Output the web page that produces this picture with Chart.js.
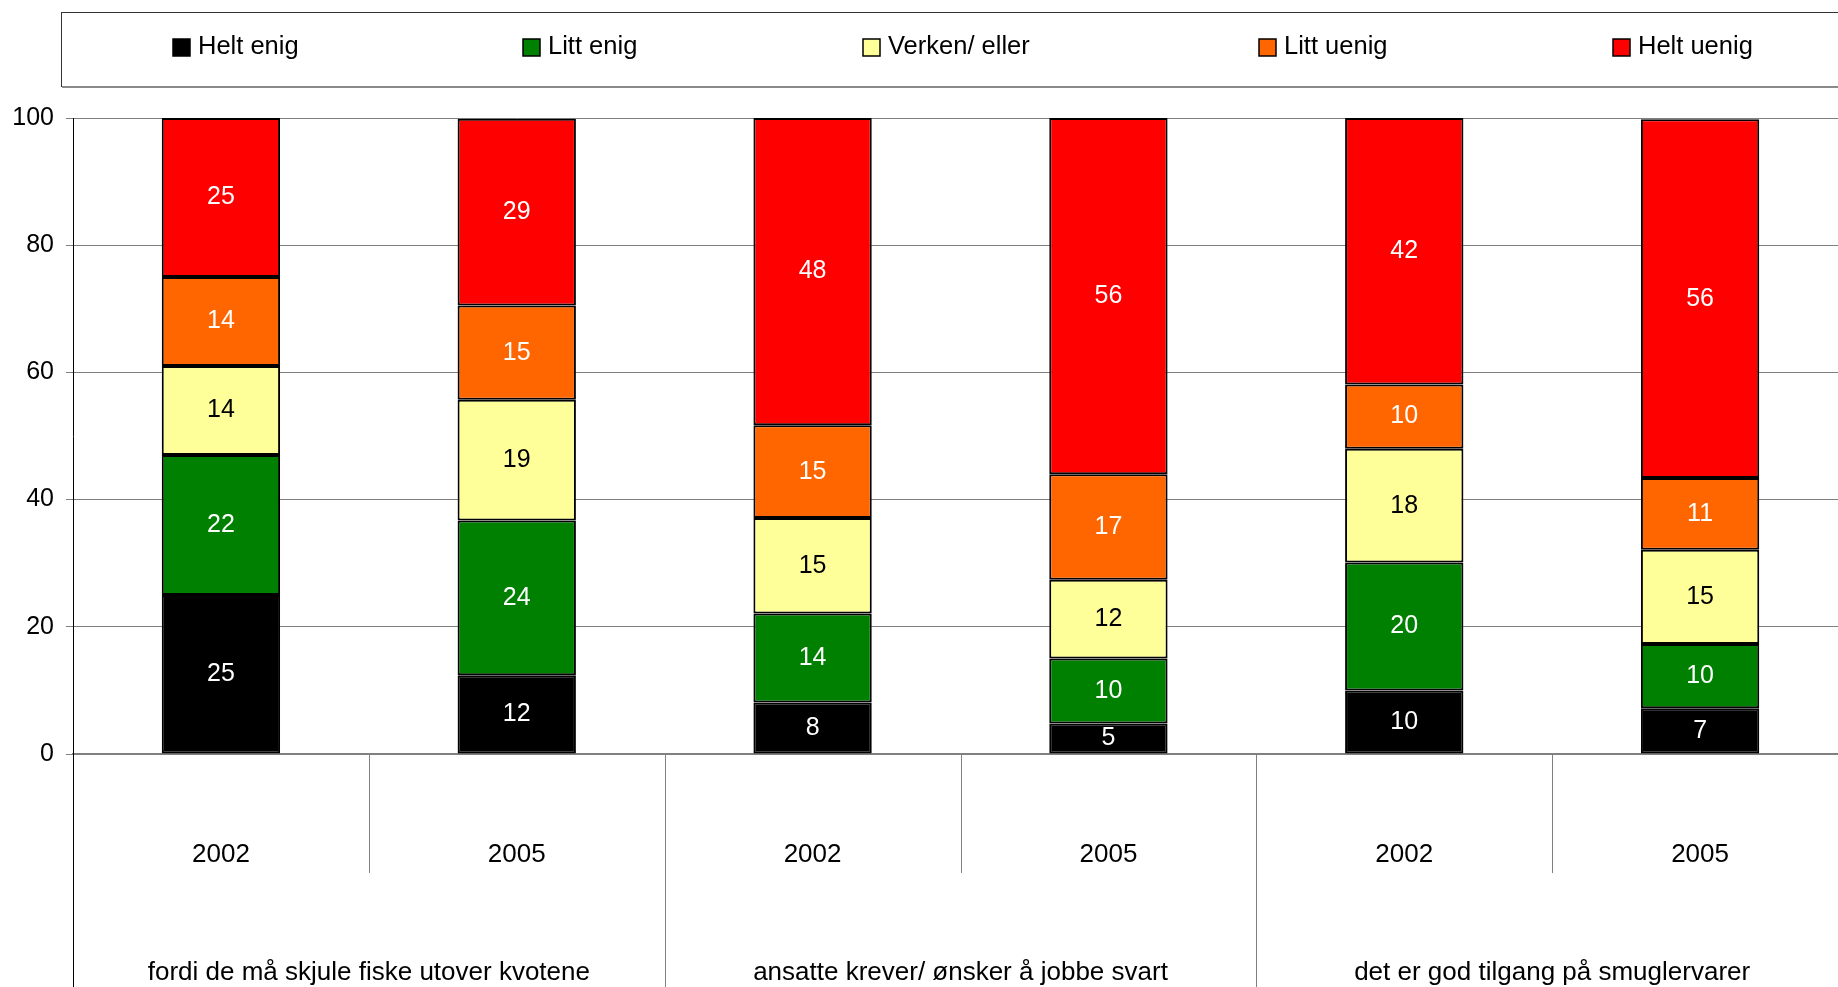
<!DOCTYPE html>
<html lang="no">
<head>
    <meta charset="UTF-8">
    <title>Helt enig / Helt uenig 2002-2005</title>
    <script src="https://cdn.jsdelivr.net/npm/chart.js"></script>
    <style>
        html, body {
            margin: 0;
            padding: 0;
            background: #ffffff;
            overflow: hidden;
        }
        .chart-container {
            position: relative;
            width: 1848px;
            height: 987px;
        }
    </style>
</head>
<body>
<div class="chart-container">
    <canvas id="chart"></canvas>
</div>

<script>
    // categories
    const groups = ['fordi de må skjule fiske utover kvotene', 'ansatte krever/ ønsker å jobbe svart', 'det er god tilgang på smuglervarer'];
    const years = ['2002', '2005', '2002', '2005', '2002', '2005'];

    // series (percent, bottom to top)
    const heltEnig    = [25, 12.4, 8.1, 4.8, 10, 7.2];
    const littEnig    = [22, 24.3, 14, 10.2, 20.1, 10.1];
    const verkenEller = [14, 19, 15, 12.4, 17.9, 14.8];
    const littUenig   = [14, 14.8, 14.6, 16.6, 10.1, 11.3];
    const heltUenig   = [25, 29.4, 48.3, 56, 41.9, 56.4];

    const yTicks = [0, 20, 40, 60, 80, 100];

    const FONT = "'Liberation Sans', Arial, sans-serif";
    const legendX = [173, 523, 863, 1259, 1613];

    // legend in a frame, like the original
    const boxLegend = {
        id: 'boxLegend',
        afterDraw(chart) {
            const ctx = chart.ctx;
            ctx.save();
            ctx.strokeStyle = '#333';
            ctx.lineWidth = 1;
            ctx.strokeRect(61.5, 12.5, chart.width, 74);
            ctx.strokeStyle = '#8a8a8a';
            ctx.lineWidth = 2;
            ctx.beginPath();
            ctx.moveTo(62, 87);
            ctx.lineTo(chart.width, 87);
            ctx.stroke();

            ctx.font = '25.5px ' + FONT;
            ctx.textBaseline = 'middle';
            ctx.textAlign = 'left';
            chart.data.datasets.forEach((ds, i) => {
                const x = legendX[i];
                ctx.fillStyle = ds.backgroundColor;
                ctx.fillRect(x, 39, 17, 17);
                ctx.strokeStyle = '#000';
                ctx.lineWidth = 1.5;
                ctx.strokeRect(x, 39, 17, 17);
                ctx.fillStyle = '#000';
                ctx.fillText(ds.label, x + 25, 47);
            });
            ctx.restore();
        }
    };

    // value labels in the middle of each segment
    const barLabels = {
        id: 'barLabels',
        afterDatasetsDraw(chart) {
            const ctx = chart.ctx;
            ctx.save();
            ctx.font = '25px ' + FONT;
            ctx.textAlign = 'center';
            ctx.textBaseline = 'middle';
            chart.data.datasets.forEach((ds, i) => {
                const meta = chart.getDatasetMeta(i);
                meta.data.forEach((bar, j) => {
                    ctx.fillStyle = ds.labelColor;
                    ctx.fillText(Math.round(ds.data[j]), bar.x, (bar.y + bar.base) / 2);
                });
            });
            ctx.restore();
        }
    };

    // separators and group names under the axis
    const lowerAxis = {
        id: 'lowerAxis',
        afterDraw(chart) {
            const ctx = chart.ctx;
            const x = chart.scales.x;
            const area = chart.chartArea;
            const half = (x.getPixelForValue(1) - x.getPixelForValue(0)) / 2;
            ctx.save();
            ctx.lineWidth = 1;
            for (let k = 0; k <= years.length; k++) {
                const px = k < years.length ? x.getPixelForValue(k) - half : x.getPixelForValue(k - 1) + half;
                const bottom = k % 2 === 0 ? chart.height : area.bottom + 119;
                ctx.strokeStyle = k === 0 ? '#000' : '#808080';
                ctx.beginPath();
                ctx.moveTo(Math.round(px) + 0.5, area.bottom);
                ctx.lineTo(Math.round(px) + 0.5, bottom);
                ctx.stroke();
            }
            ctx.font = '26px ' + FONT;
            ctx.fillStyle = '#000';
            ctx.textAlign = 'center';
            ctx.textBaseline = 'middle';
            groups.forEach((g, gi) => {
                const cx = (x.getPixelForValue(2 * gi) + x.getPixelForValue(2 * gi + 1)) / 2;
                ctx.fillText(g, cx, area.bottom + 219);
            });
            ctx.restore();
        }
    };

    function dataset(label, data, color, labelColor) {
        return {
            label: label,
            data: data,
            backgroundColor: color,
            borderColor: '#000',
            borderWidth: 2,
            borderSkipped: false,
            barPercentage: 0.4,
            categoryPercentage: 1.0,
            labelColor: labelColor
        };
    }

    const ctx = document.getElementById('chart').getContext('2d');
    new Chart(ctx, {
        type: 'bar',
        data: {
            labels: years,
            datasets: [
                dataset('Helt enig', heltEnig, '#000000', '#ffffff'),
                dataset('Litt enig', littEnig, '#008000', '#ffffff'),
                dataset('Verken/ eller', verkenEller, '#FFFF99', '#000000'),
                dataset('Litt uenig', littUenig, '#FF6600', '#ffffff'),
                dataset('Helt uenig', heltUenig, '#FF0000', '#ffffff')
            ]
        },
        options: {
            responsive: true,
            maintainAspectRatio: false,
            animation: false,
            devicePixelRatio: 1,
            layout: {
                padding: { top: 118, left: 0, right: 0, bottom: 0 }
            },
            plugins: {
                legend: { display: false },
                tooltip: { enabled: false }
            },
            scales: {
                x: {
                    stacked: true,
                    grid: { display: false },
                    border: { display: true, color: '#808080', width: 2 },
                    ticks: {
                        color: '#000',
                        font: { family: FONT, size: 26 },
                        padding: 77
                    },
                    afterFit(scale) {
                        scale.height = 233;
                    }
                },
                y: {
                    stacked: true,
                    min: 0,
                    max: 100,
                    afterBuildTicks(scale) {
                        scale.ticks = yTicks.map(v => ({ value: v }));
                    },
                    grid: {
                        color: '#808080',
                        lineWidth: 1,
                        tickLength: 7,
                        tickColor: '#808080'
                    },
                    border: { display: true, color: '#000', width: 1 },
                    ticks: {
                        color: '#000',
                        font: { family: FONT, size: 25 },
                        padding: 12
                    },
                    afterFit(scale) {
                        scale.width = 73;
                    }
                }
            }
        },
        plugins: [boxLegend, barLabels, lowerAxis]
    });
</script>
</body>
</html>
